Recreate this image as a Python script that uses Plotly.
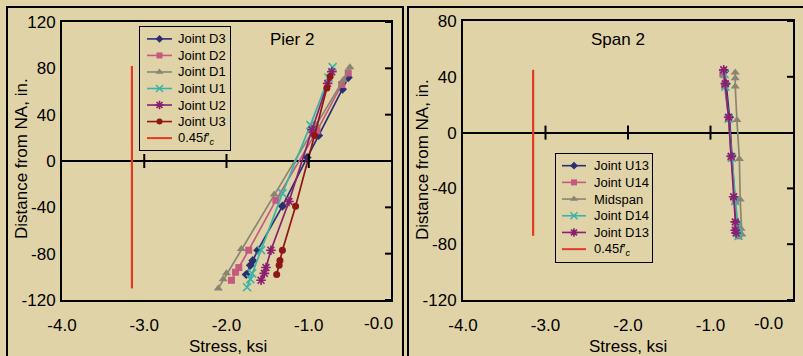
import plotly.graph_objects as go

# ---------------- data ----------------
# Pier 2 panel (stress in ksi, distance from neutral axis in inches)
d3_x = [-0.52, -0.59, -0.88, -1.02, -1.32, -1.62, -1.68, -1.71, -1.76]
d3_y = [72, 62, 22, 3, -39, -77, -86, -90, -98]
d2_x = [-0.52, -0.60, -0.90, -1.40, -1.73, -1.85, -1.89, -1.94]
d2_y = [76, 66, 26, -34, -77, -92, -96, -103]
d1_x = [-0.50, -0.58, -0.91, -1.42, -1.82, -2.00, -2.04, -2.10]
d1_y = [81, 70, 31, -29, -76, -97, -102, -110]
u1_x = [-0.71, -0.76, -0.98, -1.32, -1.58, -1.69, -1.71, -1.75]
u1_y = [81, 72, 31, -28, -77, -97, -102, -109]
u2_x = [-0.72, -0.77, -0.96, -1.24, -1.46, -1.52, -1.54, -1.58]
u2_y = [77, 67, 27, -35, -77, -92, -97, -103]
u3_x = [-0.74, -0.78, -0.93, -1.16, -1.32, -1.35, -1.36, -1.39]
u3_y = [73, 63, 22, -39, -77, -86, -90, -98]
pier_limit_x = [-3.15, -3.15]
pier_limit_y = [-110, 82]

# Span 2 panel
u13_x = [-0.83, -0.81, -0.77, -0.74, -0.71, -0.69, -0.69, -0.68]
u13_y = [44, 35, 11, -17, -47, -64, -70, -72]
u14_x = [-0.85, -0.83, -0.78, -0.75, -0.70, -0.68, -0.67, -0.66]
u14_y = [42, 34, 10, -18, -49, -66, -71, -74]
mid_x = [-0.70, -0.70, -0.70, -0.68, -0.65, -0.64, -0.63, -0.62]
mid_y = [43, 39, 33, 9, -19, -48, -69, -73]
d14_x = [-0.83, -0.82, -0.78, -0.74, -0.70, -0.67, -0.66, -0.66]
d14_y = [42, 33, 10, -18, -49, -67, -72, -74]
d13_x = [-0.84, -0.82, -0.78, -0.75, -0.72, -0.70, -0.70, -0.69]
d13_y = [45, 35, 11, -17, -46, -64, -70, -72]
span_limit_x = [-3.15, -3.15]
span_limit_y = [-74, 45]

x_ticks = [-4, -3, -2, -1]
x_ticktext = ["-4.0", "-3.0", "-2.0", "-1.0"]
pier_yticks = [120, 80, 40, 0, -40, -80, -120]
span_yticks = [80, 40, 0, -40, -80, -120]
limit_label = "0.45<i>f</i>′<sub><i>c</i></sub>"

pier_names = ["Joint D3", "Joint D2", "Joint D1", "Joint U1", "Joint U2", "Joint U3"]
span_names = ["Joint U13", "Joint U14", "Midspan", "Joint D14", "Joint D13"]

# ---------------- style ----------------
BG = "#E0D3A8"
FONT = "Liberation Sans, Arial, sans-serif"
NAVY = "#2B2F70"
PINK = "#C45A80"
GRAY = "#8A8573"
TEAL = "#3CB3A8"
PURPLE = "#8A1F70"
DRED = "#8E1616"
RED = "#E23A25"

pier_style = [(NAVY, "diamond", 7, False), (PINK, "square", 7, False),
              (GRAY, "triangle-up", 8, False), (TEAL, "x-thin-open", 8, True),
              (PURPLE, "asterisk-open", 8, True), (DRED, "circle", 7, False)]
span_style = [(NAVY, "diamond", 7, False), (PINK, "square", 7, False),
              (GRAY, "triangle-up", 8, False), (TEAL, "x-thin-open", 8, True),
              (PURPLE, "asterisk-open", 8, True)]

W, H = 803, 356
def px_x(p):
    return p / W
def px_y(p):
    return 1 - p / H

fig = go.Figure()

def marker(color, symbol, size, outline):
    return dict(symbol=symbol, size=size, color=color,
                line=dict(color=color, width=1.6 if outline else 0))

pier_series = [(d3_x, d3_y), (d2_x, d2_y), (d1_x, d1_y),
               (u1_x, u1_y), (u2_x, u2_y), (u3_x, u3_y)]
span_series = [(u13_x, u13_y), (u14_x, u14_y), (mid_x, mid_y),
               (d14_x, d14_y), (d13_x, d13_y)]

for (x, y), name, (c, s, sz, o) in zip(pier_series, pier_names, pier_style):
    fig.add_trace(go.Scatter(x=x, y=y, name=name, mode="lines+markers",
                             xaxis="x", yaxis="y", line=dict(color=c, width=1.7),
                             marker=marker(c, s, sz, o), showlegend=False))
fig.add_trace(go.Scatter(x=pier_limit_x, y=pier_limit_y, name="0.45f'c",
                         mode="lines", line=dict(color=RED, width=2.2),
                         xaxis="x", yaxis="y", showlegend=False))
for (x, y), name, (c, s, sz, o) in zip(span_series, span_names, span_style):
    fig.add_trace(go.Scatter(x=x, y=y, name=name, mode="lines+markers",
                             xaxis="x2", yaxis="y2", line=dict(color=c, width=1.7),
                             marker=marker(c, s, sz, o), showlegend=False))
fig.add_trace(go.Scatter(x=span_limit_x, y=span_limit_y, name="0.45f'c",
                         mode="lines", line=dict(color=RED, width=2.2),
                         xaxis="x2", yaxis="y2", showlegend=False))

# ---------------- legend boxes (drawn on their own small axes) ----------------
annotations = []
legfont = dict(family=FONT, size=13, color="black")

def build_legend(names, styles, xa, ya, line_x0, line_x1, text_x):
    rows = list(range(len(names) + 1))
    mid = (line_x0 + line_x1) / 2
    for r, name, (c, s, sz, o) in zip(rows, names, styles):
        fig.add_trace(go.Scatter(x=[line_x0, line_x1], y=[r, r], mode="lines",
                                 line=dict(color=c, width=1.6), xaxis=xa, yaxis=ya,
                                 showlegend=False, hoverinfo="skip"))
        fig.add_trace(go.Scatter(x=[mid], y=[r], mode="markers",
                                 marker=marker(c, s, sz - 1, o), xaxis=xa, yaxis=ya,
                                 showlegend=False, hoverinfo="skip"))
        annotations.append(dict(text=name, x=text_x, y=r, xref=xa, yref=ya,
                                xanchor="left", yanchor="middle", showarrow=False,
                                font=legfont))
    r = rows[-1]
    fig.add_trace(go.Scatter(x=[line_x0, line_x1], y=[r, r], mode="lines",
                             line=dict(color=RED, width=2), xaxis=xa, yaxis=ya,
                             showlegend=False, hoverinfo="skip"))
    annotations.append(dict(text=limit_label, x=text_x, y=r, xref=xa, yref=ya,
                            xanchor="left", yanchor="middle", showarrow=False,
                            font=legfont))

build_legend(pier_names, pier_style, "x3", "y3", 7, 32, 36)
build_legend(span_names, span_style, "x4", "y4", 6, 30, 36)

tickfont = dict(family=FONT, size=17, color="black")

def xaxis(domain, anchor):
    return dict(domain=domain, anchor=anchor, range=[-4, 0], automargin=False,
                tickvals=x_ticks, ticktext=x_ticktext, ticks="",
                showgrid=False, zeroline=False, showline=True, mirror=True,
                linecolor="black", linewidth=2, tickfont=tickfont,
                ticklabelstandoff=9)

def yaxis(domain, anchor, rng, tv):
    return dict(domain=domain, anchor=anchor, range=rng, tickvals=tv, automargin=False,
                ticktext=[str(v) for v in tv], ticks="", showgrid=False,
                zeroline=True, zerolinecolor="black", zerolinewidth=2,
                showline=True, mirror=True, linecolor="black", linewidth=2,
                tickfont=tickfont, ticklabelstandoff=1)

def legaxis(domain, anchor, rng):
    return dict(domain=domain, anchor=anchor, range=rng, automargin=False,
                showticklabels=False, ticks="", showgrid=False, zeroline=False,
                showline=True, mirror=True, linecolor="black", linewidth=1,
                fixedrange=True)

left_dom_x = [px_x(62), px_x(391)]
right_dom_x = [px_x(463), px_x(793)]
left_dom_y = [px_y(300), px_y(22)]
right_dom_y = [px_y(300), px_y(21)]

shapes = []
# crossing tick marks on the zero line and on the right-hand axis
for xr, yr in (("x", "y"), ("x2", "y2")):
    for t in [-3, -2, -1]:
        shapes.append(dict(type="line", xref=xr, yref=yr, x0=t, x1=t,
                           ysizemode="pixel", yanchor=0, y0=-7, y1=7,
                           line=dict(color="black", width=2), layer="above"))
for t in pier_yticks:
    if t != 0:
        shapes.append(dict(type="line", xref="x", yref="y", y0=t, y1=t,
                           xsizemode="pixel", xanchor=0, x0=-6, x1=6,
                           line=dict(color="black", width=2)))
for t in span_yticks:
    if t != 0:
        shapes.append(dict(type="line", xref="x2", yref="y2", y0=t, y1=t,
                           xsizemode="pixel", xanchor=0, x0=-6, x1=6,
                           line=dict(color="black", width=2)))
# panel frames
shapes.append(dict(type="rect", xref="paper", yref="paper",
                   x0=px_x(7), x1=px_x(403), y0=-0.3, y1=px_y(7),
                   line=dict(color="black", width=2)))
shapes.append(dict(type="rect", xref="paper", yref="paper",
                   x0=px_x(408), x1=1.3, y0=-0.3, y1=px_y(7),
                   line=dict(color="black", width=2)))

big = dict(family=FONT, size=17, color="black")
def label(text, x, y, **kw):
    d = dict(text=text, x=x, y=y, xref="paper", yref="paper", showarrow=False,
             font=big, xanchor="center", yanchor="middle")
    d.update(kw)
    return d

annotations += [
    label("Pier 2", px_x(292), px_y(39)),
    label("Span 2", px_x(618), px_y(39)),
    label("Stress, ksi", px_x(228), px_y(346)),
    label("Stress, ksi", px_x(628), px_y(346)),
    label("Distance from NA, in.", px_x(22), px_y(159), textangle=-90),
    label("Distance from NA, in.", px_x(422), px_y(160), textangle=-90),
    label("-0.0", 0, px_y(323), xref="x", xshift=-13),
    label("-0.0", 0, px_y(323), xref="x2", xshift=-25),
]

fig.update_layout(
    width=W, height=H, margin=dict(l=0, r=0, t=0, b=0, autoexpand=False),
    paper_bgcolor=BG, plot_bgcolor=BG, showlegend=False,
    xaxis=xaxis(left_dom_x, "y"),
    yaxis=yaxis(left_dom_y, "x", [-120, 120], pier_yticks),
    xaxis2=xaxis(right_dom_x, "y2"),
    yaxis2=yaxis(right_dom_y, "x2", [-120, 80], span_yticks),
    xaxis3=legaxis([px_x(140), px_x(230)], "y3", [0, 90]),
    yaxis3=legaxis([px_y(150), px_y(27)], "x3", [6.72, -0.72]),
    xaxis4=legaxis([px_x(556), px_x(652)], "y4", [0, 96]),
    yaxis4=legaxis([px_y(262), px_y(154)], "x4", [5.77, -0.70]),
    shapes=shapes, annotations=annotations,
)

fig.write_html("out.html", config={"displayModeBar": False},
               post_script="document.body.style.margin='0px';")
